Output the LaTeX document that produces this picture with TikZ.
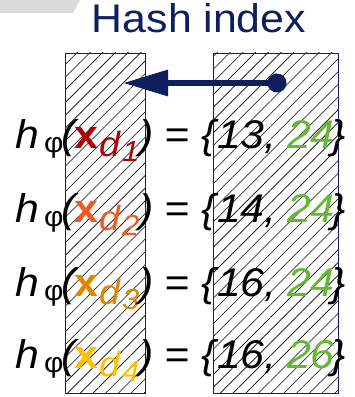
\documentclass[tikz,border=0pt]{standalone}
\usepackage{fontspec}
\setmainfont[FakeStretch=1.07]{Liberation Sans}
\usepackage{xcolor}
\usetikzlibrary{arrows.meta, patterns.meta}

\definecolor{navy}{RGB}{14,30,94}
\definecolor{keygreen}{RGB}{100,185,50}
\definecolor{dOne}{RGB}{176,0,0}
\definecolor{dTwo}{RGB}{245,90,35}
\definecolor{dThree}{RGB}{221,136,0}
\definecolor{dFour}{RGB}{255,192,0}
\definecolor{tabgray}{RGB}{217,217,217}

\tikzset{
  hashcol/.style={
    draw=navy, line width=0.8pt, minimum height=340pt,
    pattern={Lines[angle=45, distance=9pt, line width=0.6pt]},
    pattern color=black, inner sep=0pt
  },
  eqrow/.style={
    anchor=base west, inner sep=0pt,
    font=\fontsize{40}{48}\selectfont\itshape
  },
  idxarrow/.style={
    -{Triangle[length=45pt, width=25pt]}, line width=6pt, color=navy
  },
  idxdot/.style={
    circle, fill=navy, minimum size=19pt, inner sep=0pt
  },
}

% fixed advance for one piece of a row
\newcommand{\fixw}[2]{\makebox[#1][l]{#2}}
% one row: colour of x, index of d, the two keys
\newcommand{\hashrow}[4]{%
  \fixw{31pt}{\hspace{2pt}h}%
  \fixw{17pt}{\raisebox{-4pt}{\fontsize{28}{28}\selectfont\upshape φ}}%
  \fixw{13pt}{(}%
  \color{#1}%
  \fixw{25pt}{\upshape\bfseries x}%
  \fixw{23pt}{\raisebox{-8pt}{\fontsize{35}{35}\selectfont d}}%
  \fixw{17pt}{\raisebox{-13pt}{\fontsize{29}{29}\selectfont #2}}%
  \color{black}%
  \fixw{25pt}{)}%
  \fixw{37pt}{=}%
  \fixw{16pt}{\{}%
  \fixw{70pt}{#3,}%
  \fixw{44pt}{\textcolor{keygreen}{#4}}%
  \}}

\begin{document}
\begin{tikzpicture}[x=1pt, y=1pt]
  \useasboundingbox (0,0) rectangle (355,397);

  % tab corner
  \fill[tabgray] (0,397) -- (80,397) -- (73,384) -- (0,384) -- cycle;

  % title
  \node[font=\fontsize{40}{48}\selectfont, text=navy, anchor=base,
    inner sep=0pt] (title) at (199,364) {Hash index};

  % hash columns
  \node[hashcol, minimum width=80pt] (colleft) at (105,174) {};
  \node[hashcol, minimum width=125pt] (colright) at (275.5,174) {};

  % pointer
  \node[idxdot] (dot) at (277,314) {};
  \coordinate (tip) at (123,314);
  \draw[idxarrow] (dot.center) -- (tip);

  % rows
  \node[eqrow] (row1) at (13,248) {\hashrow{dOne}{1}{13}{24}};
  \node[eqrow] (row2) at (13,174) {\hashrow{dTwo}{2}{14}{24}};
  \node[eqrow] (row3) at (13,100) {\hashrow{dThree}{3}{16}{24}};
  \node[eqrow] (row4) at (13,28) {\hashrow{dFour}{4}{16}{26}};
\end{tikzpicture}
\end{document}
